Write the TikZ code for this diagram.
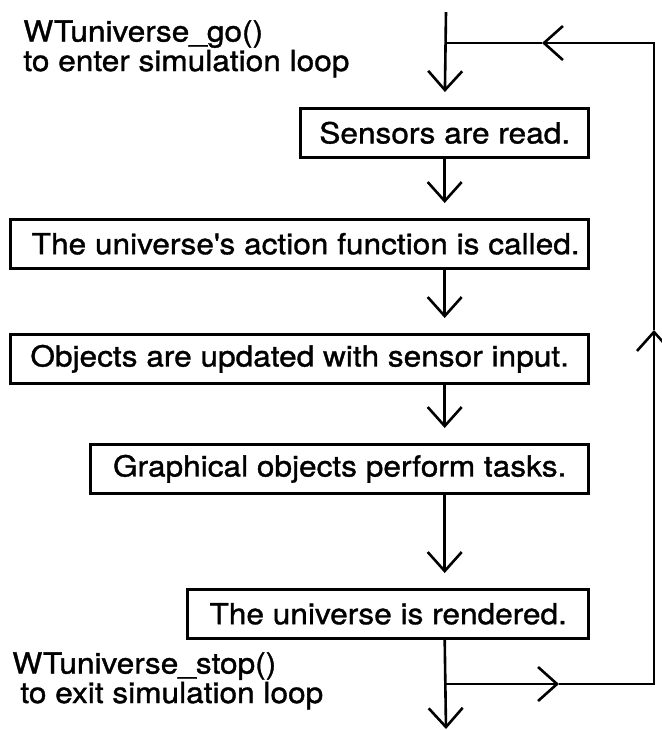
\documentclass[tikz,border=0pt]{standalone}
\usepackage{fontspec}
\setmainfont{TeX Gyre Heros}[FakeStretch=1.09,FakeBold=1.2]
\usetikzlibrary{arrows.meta,positioning}
\tikzset{stepbox/.style={draw=black,line width=1.3pt,minimum height=24.5pt,inner sep=0pt,anchor=north east,font=\fontsize{14.5pt}{13pt}\selectfont}, loopline/.style={line width=1.3pt,line join=miter}, flowline/.style={loopline,-{Straight Barb[length=9.5pt,width=17pt]}}, stepflow/.style={flowline,shorten >=7.5pt}, note/.style={font=\fontsize{14.5pt}{13pt}\selectfont,align=left,inner sep=0pt,anchor=north west}}

\begin{document}
\begin{tikzpicture}[x=.5pt,y=-.5pt]
\useasboundingbox (0,0) rectangle (661,730);
% the five steps of one pass
\node[stepbox,minimum width=144pt] (sensors) at (590,107) {Sensors are read.};
\node[stepbox,minimum width=289pt] (action) at (590,218) {\hspace{6pt}The universe\textquotesingle s action function is called.};
\node[stepbox,minimum width=289pt] (update) at (590,333) {Objects are updated with sensor input.};
\node[stepbox,minimum width=249pt] (tasks) at (590,443) {Graphical objects perform tasks.};
\node[stepbox,minimum width=200.5pt] (render) at (590,588) {The universe is rendered.};
\node[note] (golabel) at (23,20) {WTuniverse\_go()\\to enter simulation loop};
\node[note] (stoplabel) at (12,652) {WTuniverse\_stop()\\\hspace{4pt}to exit simulation loop};
% loop corners
\coordinate (entry) at (446,12);
\coordinate (jtop) at (446,43);
\coordinate (rtop) at (654,43);
\coordinate (backtip) at (542,43);
\coordinate (jbot) at (446,684);
\coordinate (rbot) at (654,684);
\coordinate (outtip) at (559,684);
\coordinate (uptip) at (654,330);
\coordinate (exit) at (446,729);
\draw[stepflow] (entry) -- (sensors.north);
\draw[stepflow] (sensors.south) -- (sensors.south |- action.north);
\draw[stepflow] (sensors.south |- action.south) -- (sensors.south |- update.north);
\draw[stepflow] (sensors.south |- update.south) -- (sensors.south |- tasks.north);
\draw[stepflow] (sensors.south |- tasks.south) -- (sensors.south |- render.north);
\draw[flowline] (sensors.south |- render.south) -- (exit);
\draw[flowline] (jbot) -- (outtip);
\draw[flowline] (outtip) -- (rbot) -- (uptip);
\draw[flowline] (uptip) -- (rtop) -- (backtip);
\draw[loopline] (backtip) -- (jtop);
\end{tikzpicture}
\end{document}
